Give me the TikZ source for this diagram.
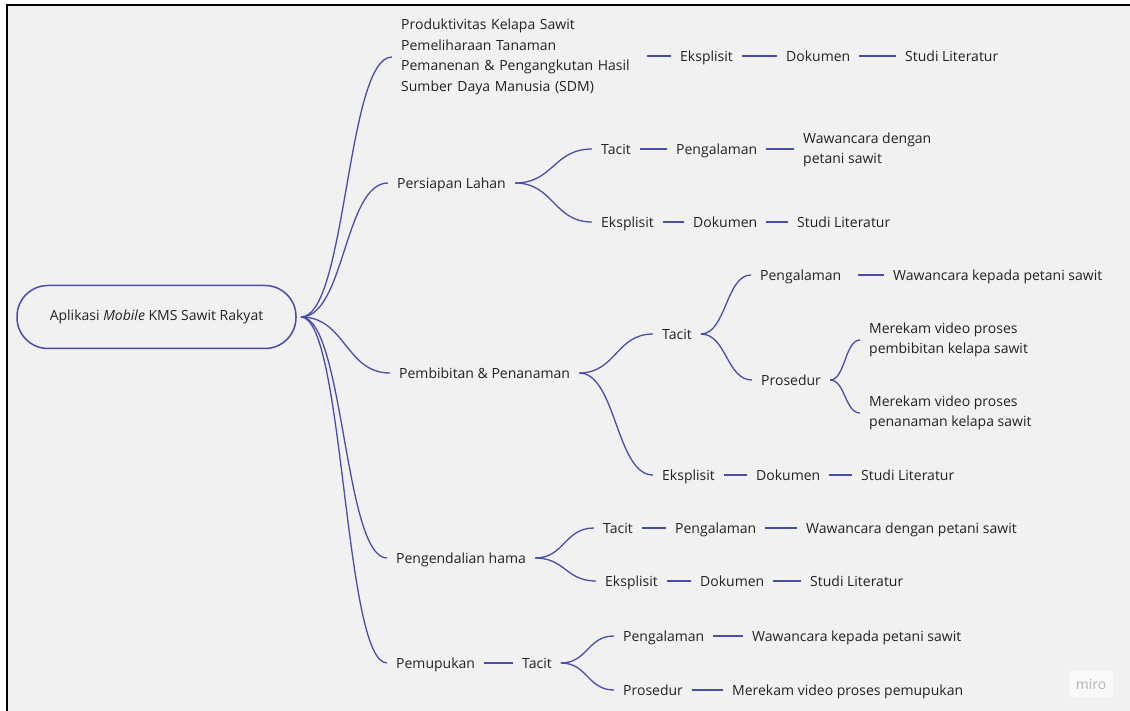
\documentclass[tikz,border=0pt]{standalone}
\usepackage{fontspec}
\setmainfont{Open Sans}
\usetikzlibrary{calc}

\definecolor{paper}{RGB}{241,241,241}
\definecolor{edge}{RGB}{72,78,168}
\definecolor{ink}{RGB}{34,34,34}
\definecolor{logo}{RGB}{178,178,186}

\tikzset{
	topic/.style={anchor=west, inner xsep=9pt, inner ysep=2pt, text=ink, text height=12pt, text depth=1pt},
	topics/.style={anchor=west, inner xsep=9pt, inner ysep=2pt, text=ink, align=left},
	link/.style={draw=edge, line width=1.3pt},
	branch/.style={link, to path={let \p1=(\tikztostart), \p2=(\tikztotarget) in
		.. controls ({\x1+0.5*(\x2-\x1)},\y1) and ({\x1+0.5*(\x2-\x1)},\y2) .. (\p2) \tikztonodes}}
}

\begin{document}
\begin{tikzpicture}[
			x=1pt, y=-1pt,
			font=\fontsize{14}{20.5}\selectfont
			]
			\useasboundingbox (0,0) rectangle (1130,711);
			\fill[white] (0,0) rectangle (1130,711);
			\fill[paper] (7,5) rectangle (1130,711);
			\draw[black, line width=2pt] (7,711) -- (7,5) -- (1130,5);

			% root
			\node[draw=edge, line width=1.5pt, rounded corners=31pt, minimum width=279pt, minimum height=63pt,
				outer xsep=5pt, text=ink] (root) at (156.5,317) {Aplikasi \textit{Mobile} KMS Sawit Rakyat};

			% level 1
			\node[topics, text width=237pt] (a1) at (392,57) {Produktivitas Kelapa Sawit\\Pemeliharaan Tanaman\\Pemanenan \& Pengangkutan Hasil\\Sumber Daya Manusia (SDM)};
			\node[topic] (b1) at (388,183) {Persiapan Lahan};
			\node[topic] (c1) at (390,373) {Pembibitan \& Penanaman};
			\node[topic] (d1) at (387,558) {Pengendalian hama};
			\node[topic] (e1) at (387,663) {Pemupukan};

			% produktivitas
			\node[topic] (a2) at (671,56) {Eksplisit};
			\node[topic] (a3) at (777,56) {Dokumen};
			\node[topic] (a4) at (896,56) {Studi Literatur};

			% persiapan lahan
			\node[topic] (b2) at (592,149) {Tacit};
			\node[topic] (b3) at (667,149) {Pengalaman};
			\node[topics] (b4) at (794,150) {Wawancara dengan\\petani sawit};
			\node[topic] (b5) at (592,222) {Eksplisit};
			\node[topic] (b6) at (684,222) {Dokumen};
			\node[topic] (b7) at (788,222) {Studi Literatur};

			% pembibitan & penanaman
			\node[topic] (c2) at (653,334) {Tacit};
			\node[topic, text width=89pt] (c3) at (751,275) {Pengalaman};
			\node[topic] (c4) at (884,275) {Wawancara kepada petani sawit};
			\node[topic] (c5) at (752,380) {Prosedur};
			\node[topics] (c7) at (860,340) {Merekam video proses\\pembibitan kelapa sawit};
			\node[topics] (c8) at (860,413) {Merekam video proses\\penanaman kelapa sawit};
			\node[topic] (c6) at (653,475) {Eksplisit};
			\node[topic] (c9) at (747,475) {Dokumen};
			\node[topic] (c10) at (852,475) {Studi Literatur};

			% pengendalian hama
			\node[topic] (d2) at (594,528) {Tacit};
			\node[topic] (d3) at (666,528) {Pengalaman};
			\node[topic] (d4) at (797,528) {Wawancara dengan petani sawit};
			\node[topic] (d5) at (596,581) {Eksplisit};
			\node[topic] (d6) at (691,581) {Dokumen};
			\node[topic] (d7) at (801,581) {Studi Literatur};

			% pemupukan
			\node[topic] (e2) at (513,663) {Tacit};
			\node[topic] (e3) at (614,636) {Pengalaman};
			\node[topic] (e4) at (743,636) {Wawancara kepada petani sawit};
			\node[topic] (e5) at (614,690) {Prosedur};
			\node[topic] (e6) at (723,690) {Merekam video proses pemupukan};

			% curved branches
			\foreach \from/\to in {root/a1, root/b1, root/c1, root/d1, root/e1,
				b1/b2, b1/b5, c1/c2, c1/c6, c2/c3, c2/c5, c5/c7, c5/c8,
				d1/d2, d1/d5, e2/e3, e2/e5}
				\draw[branch] (\from.east) to (\to.west);

			% straight links
			\draw[link] (a1.east |- a2.west) -- (a2.west);
			\foreach \from/\to in {a2/a3, a3/a4, b2/b3, b3/b4, b5/b6, b6/b7,
				c3/c4, c6/c9, c9/c10, d2/d3, d3/d4, d5/d6, d6/d7,
				e1/e2, e3/e4, e5/e6}
				\draw[link] (\from.east) -- (\from.east -| \to.west);

			% watermark
			\node[fill=white!60!paper, text=logo, minimum width=44pt, minimum height=26pt] (logo) at (1091,684) {miro};
		\end{tikzpicture}
\end{document}
